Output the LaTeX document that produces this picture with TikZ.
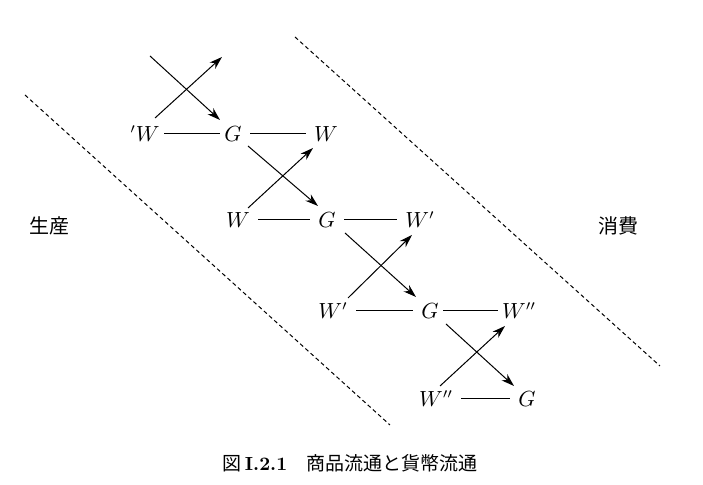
\documentclass[tikz,border=0pt]{standalone}
\usepackage{fontspec}
\newfontfamily\cjk{Noto Sans CJK JP}
\usetikzlibrary{arrows.meta,calc}
\begin{document}
\begin{tikzpicture}[x=0.5pt,y=-0.5pt,
  lbl/.style={inner sep=2pt,font=\fontsize{10.5pt}{12pt}\selectfont},
  link/.style={line width=0.5pt},
  wlink/.style={link,shorten <=2pt,shorten >=2pt},
  arr/.style={line width=0.5pt,-{Stealth[length=6.5pt,width=4.2pt]}},
  bound/.style={line width=0.5pt,dash pattern=on 2pt off 1.5pt},
  jp/.style={font=\cjk\fontsize{10pt}{11pt}\selectfont}]
\useasboundingbox (0,0) rectangle (703,485);
% row 1
\node[lbl] (w1)  at (145,134) {${}'W$};
\node[lbl] (g1)  at (233,134) {$G$};
\node[lbl] (w1b) at (326,134) {$W$};
% row 2
\node[lbl] (w2)  at (238,220) {$W$};
\node[lbl] (g2)  at (327,220) {$G$};
\node[lbl] (w2b) at (420,220) {$W'$};
% row 3
\node[lbl] (w3)  at (333,311) {$W'$};
\node[lbl] (g3)  at (430,311) {$G$};
\node[lbl] (w3b) at (519,311) {$W''$};
% row 4
\node[lbl] (w4)  at (436,399) {$W''$};
\node[lbl] (g4)  at (527,399) {$G$};
% horizontal links
\draw[link] (w1) -- (g1);
\draw[wlink] (g1) -- (w1b);
\draw[wlink] (w2) -- (g2);
\draw[wlink] (g2) -- (w2b);
\draw[wlink] (w3) -- (g3);
\draw[link] (g3) -- (w3b);
\draw[wlink] (w4) -- (g4);
% crossing arrows
\coordinate (in1) at (150,56);
\coordinate (out1) at (222,57);
\draw[arr] (in1) -- ($(g1)+(-13,-14)$);
\draw[arr] ($(w1)+(10,-16)$) -- (out1);
\draw[arr] ($(g1)+(15,12)$) -- ($(g2)+(-9,-14)$);
\draw[arr] ($(w2)+(10,-12)$) -- ($(w1b)+(-13,14)$);
\draw[arr] ($(g2)+(18,13)$) -- ($(g3)+(-14,-14)$);
\draw[arr] ($(w3)+(15,-13)$) -- ($(w2b)+(-8,15)$);
\draw[arr] ($(g3)+(16,13)$) -- ($(g4)+(-13,-13)$);
\draw[arr] ($(w4)+(4,-13)$) -- ($(w3b)+(-14,15)$);
% boundaries
\coordinate (l1) at (25,95);
\coordinate (l2) at (390,425);
\coordinate (r1) at (295,37);
\coordinate (r2) at (660,366);
\draw[bound] (l1) -- (l2);
\draw[bound] (r1) -- (r2);
% side labels
\node[jp] (prod) at (50,226) {生産};
\node[jp] (cons) at (618,226) {消費};
% caption
\node[font=\cjk\fontsize{9.5pt}{11pt}\selectfont] (cap) at (350,463)
  {図\,{\normalfont\fontsize{9.5pt}{11pt}\selectfont\bfseries I.2.1}\quad 商品流通と貨幣流通};
\end{tikzpicture}
\end{document}
